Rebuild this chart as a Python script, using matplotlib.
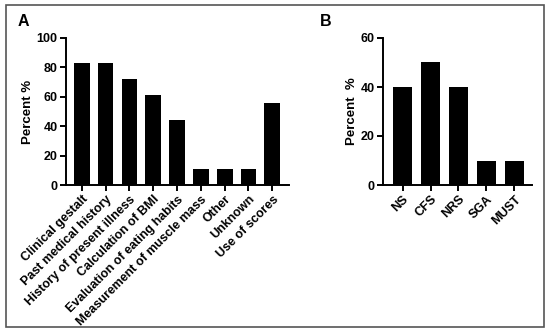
import matplotlib
matplotlib.use('Agg')
import matplotlib.pyplot as plt
from matplotlib.patches import Rectangle

plt.rcParams['font.family'] = ['Liberation Sans', 'DejaVu Sans']
plt.rcParams['font.weight'] = 'bold'

# panel A data
methods = ['Clinical gestalt', 'Past medical history', 'History of present illness',
           'Calculation of BMI', 'Evaluation of eating habits', 'Measurement of muscle mass',
           'Other', 'Unknown', 'Use of scores']
methods_pct = [83.3, 83.3, 72.2, 61.1, 44.4, 11.1, 11.1, 11.1, 55.6]

# panel B data
scores = ['NS', 'CFS', 'NRS', 'SGA', 'MUST']
scores_pct = [40, 50, 40, 10, 10]

W, H = 550, 335
fig = plt.figure(figsize=(5.5, 3.35), dpi=100)

# grey frame around the whole figure
fig.patches.append(Rectangle((6 / W, 1 - 327 / H), 538 / W, 322 / H,
                             transform=fig.transFigure, fill=False,
                             edgecolor='#555555', linewidth=1.2))


def style_axis(ax):
    for s in ['top', 'right']:
        ax.spines[s].set_visible(False)
    for s in ['left', 'bottom']:
        ax.spines[s].set_linewidth(1.4)
    ax.tick_params(width=1.4, length=4.5, labelsize=9, pad=1.5)
    for lab in ax.get_yticklabels():
        lab.set_fontweight('bold')


def px_axes(left, right, top, bottom):
    return fig.add_axes([left / W, 1 - bottom / H, (right - left) / W, (bottom - top) / H])


axA = px_axes(66, 289, 38, 185)
axA.bar(range(len(methods)), methods_pct, width=0.66, color='black')
axA.set_xlim(-0.66, len(methods) - 1 + 0.7)
axA.set_ylim(0, 100)
axA.set_yticks([0, 20, 40, 60, 80, 100])
axA.set_xticks(range(len(methods)))
axA.set_xticklabels(methods, rotation=45, ha='right', rotation_mode='anchor',
                    fontsize=8.2, fontweight='bold')
axA.set_ylabel('Percent %', fontsize=9.5, fontweight='bold', labelpad=2)
style_axis(axA)
fig.text(18 / W, 1 - 22 / H, 'A', fontsize=11.5, fontweight='bold', va='center')

axB = px_axes(383, 532, 38, 185)
axB.bar(range(len(scores)), scores_pct, width=0.68, color='black')
axB.set_xlim(-0.7, len(scores) - 1 + 0.63)
axB.set_ylim(0, 60)
axB.set_yticks([0, 20, 40, 60])
axB.set_xticks(range(len(scores)))
axB.set_xticklabels(scores, rotation=45, ha='right', rotation_mode='anchor',
                    fontsize=8.2, fontweight='bold')
axB.set_ylabel('Percent  %', fontsize=9.5, fontweight='bold', labelpad=2)
style_axis(axB)
fig.text(320 / W, 1 - 22 / H, 'B', fontsize=11.5, fontweight='bold', va='center')

fig.savefig('out.png', dpi=100)
